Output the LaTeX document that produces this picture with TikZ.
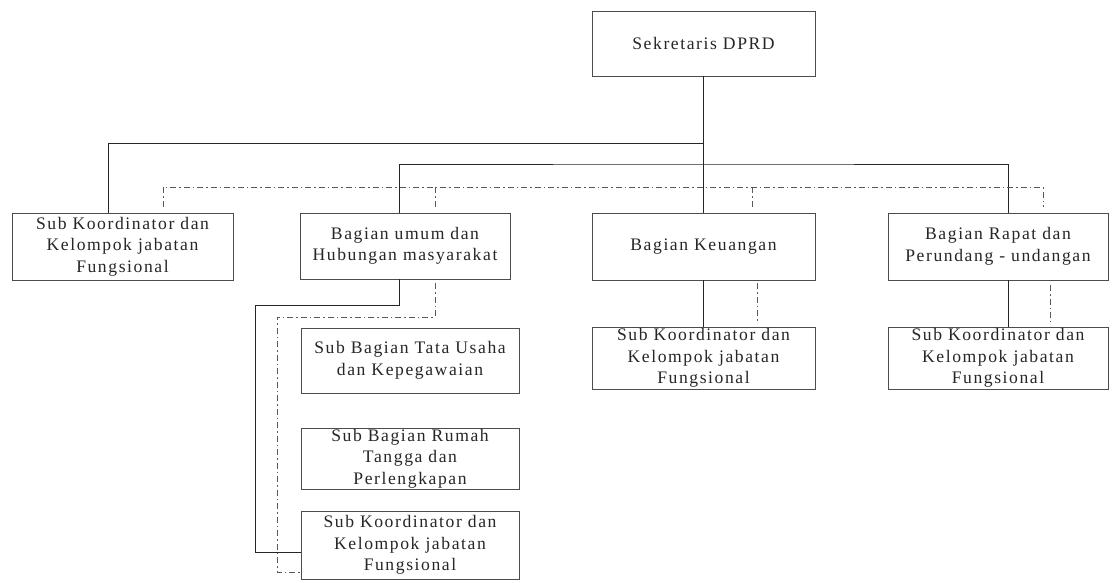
\documentclass[tikz,border=0pt]{standalone}
\usepackage{fontspec}
\setmainfont{Liberation Serif}[LetterSpace=9]
\begin{document}
\begin{tikzpicture}[x=1pt,y=-1pt,
  box/.style={draw=black!70, line width=0.8pt, align=center, inner sep=0pt,
    font=\fontsize{17.6}{21.5}\selectfont, text=black!85},
  ln/.style={draw=black!85, line width=0.9pt},
  dd/.style={draw=black!65, line width=0.8pt, dash pattern=on 6pt off 3pt on 1.5pt off 3pt}]
\useasboundingbox (0,0) rectangle (1113,582);
\fill[white] (0,0) rectangle (1113,582);

\node[box, minimum width=223pt, minimum height=65pt] (sek) at (703.5,43.5) {Sekretaris DPRD};
\node[box, minimum width=221pt, minimum height=67pt] (left) at (122.5,246.5) {Sub Koordinator dan\\Kelompok jabatan\\Fungsional};
\node[box, minimum width=210pt, minimum height=66pt] (umum) at (405,246) {Bagian umum dan\\Hubungan masyarakat};
\node[box, minimum width=223pt, minimum height=67pt] (keu) at (703.5,246.5) {Bagian Keuangan};
\node[box, minimum width=220pt, minimum height=67pt] (rapat) at (998,246.5) {Bagian Rapat dan\\Perundang - undangan};
\node[box, minimum width=223pt, minimum height=62pt] (skeu) at (703.5,358) {Sub Koordinator dan\\Kelompok jabatan\\Fungsional};
\node[box, minimum width=220pt, minimum height=62pt] (srapat) at (998,358) {Sub Koordinator dan\\Kelompok jabatan\\Fungsional};
\node[box, minimum width=218pt, minimum height=65pt] (tu) at (410,360.5) {Sub Bagian Tata Usaha\\dan Kepegawaian};
\node[box, minimum width=218pt, minimum height=61pt] (rt) at (410,458.5) {Sub Bagian Rumah\\Tangga dan\\Perlengkapan};
\node[box, minimum width=218pt, minimum height=68pt] (sk3) at (410,545) {Sub Koordinator dan\\Kelompok jabatan\\Fungsional};

\coordinate (t1) at (703.5,143);
\coordinate (t2) at (703.5,164);
\coordinate (d0) at (703.5,187);
\coordinate (du) at (435,187);
\coordinate (dk) at (752,187);
\coordinate (u1) at (255,305);
\coordinate (u2) at (277,317);

% solid hierarchy
\draw[ln] (sek.south) -- (keu.north);
\draw[ln] (t1) -| ([xshift=-14.5pt]left.north);
\draw[ln] ([xshift=-6pt]umum.north) |- (t2) -| ([xshift=10pt]rapat.north);
\draw[ln] (keu.south) -- (skeu.north);
\draw[ln] ([xshift=10pt]rapat.south) -- ([xshift=10pt]srapat.north);
\draw[ln] ([xshift=-6pt]umum.south) |- (u1) |- ([yshift=-7pt]sk3.west);

% dash-dot coordination
\draw[dd] ([xshift=40.5pt,yshift=6pt]left.north) |- (d0) -| ([xshift=45pt,yshift=6pt]rapat.north);
\draw[dd] (du) -- ([xshift=30pt,yshift=6pt]umum.north);
\draw[dd] (dk) -- ([xshift=48.5pt,yshift=6pt]keu.north);
\draw[dd] ([xshift=53.5pt,yshift=-3pt]keu.south) -- ([xshift=53.5pt,yshift=5pt]skeu.north);
\draw[dd] ([xshift=52pt,yshift=-5pt]rapat.south) -- ([xshift=52pt,yshift=5pt]srapat.north);
\draw[dd] ([xshift=30pt,yshift=-4pt]umum.south) |- (u2) |- ([yshift=-27pt]sk3.west);
\end{tikzpicture}
\end{document}
